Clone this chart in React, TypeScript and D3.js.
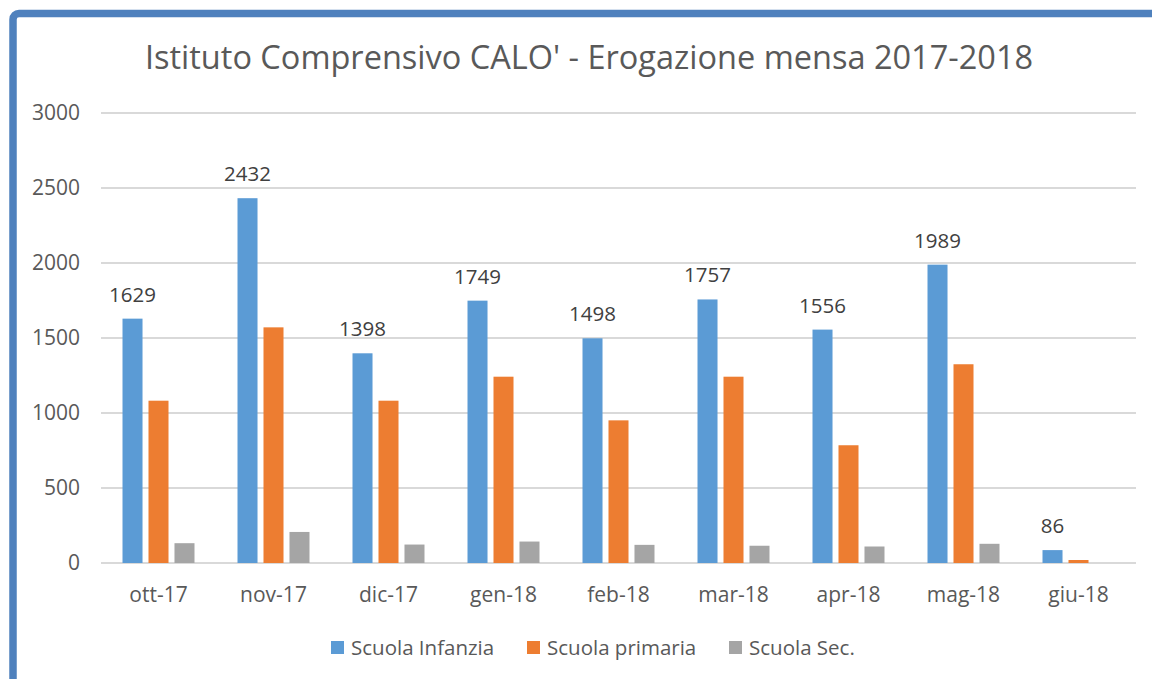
import React, { Component } from 'react';
import * as d3 from 'd3';

// dati
const months = ['ott-17', 'nov-17', 'dic-17', 'gen-18', 'feb-18', 'mar-18', 'apr-18', 'mag-18', 'giu-18'];
const seriesNames = ['Scuola Infanzia', 'Scuola primaria', 'Scuola Sec.'];
const infanzia = [1629, 2432, 1398, 1749, 1498, 1757, 1556, 1989, 86];
const primaria = [1082, 1571, 1082, 1242, 951, 1242, 785, 1325, 20];
const secondaria = [132, 207, 123, 143, 121, 115, 110, 128, 0];
const yTicks = [0, 500, 1000, 1500, 2000, 2500, 3000];
const colors = ['#5b9bd5', '#ed7d31', '#a5a5a5'];

const FONT = "'Open Sans', sans-serif";

class App extends Component {
    svgRef = React.createRef<SVGSVGElement>();

    componentDidMount() {
        this.draw();
    }

    draw() {
        const svg = d3.select(this.svgRef.current);
        svg.selectAll('*').remove();

        const values = [infanzia, primaria, secondaria];

        // cornice blu
        svg.append('rect')
            .attr('x', 13)
            .attr('y', 13.5)
            .attr('width', 1400)
            .attr('height', 1000)
            .attr('rx', 6)
            .attr('fill', '#fff')
            .attr('stroke', '#4f81bd')
            .attr('stroke-width', 7.5);

        // titolo
        svg.append('text')
            .attr('x', 589)
            .attr('y', 69)
            .attr('text-anchor', 'middle')
            .attr('font-family', FONT)
            .attr('font-size', 32.5)
            .attr('fill', '#595959')
            .text("Istituto Comprensivo CALO' - Erogazione mensa 2017-2018");

        // scale
        const x0 = d3.scaleBand()
            .domain(months)
            .range([101, 1136])
            .paddingInner(0.374)
            .paddingOuter(0.187);

        const x1 = d3.scaleBand()
            .domain(seriesNames)
            .range([0, x0.bandwidth()])
            .paddingInner(0.23);

        const y = d3.scaleLinear()
            .domain([0, 3000])
            .range([563, 113]);

        // griglia
        svg.append('g')
            .selectAll('line')
            .data(yTicks)
            .enter()
            .append('line')
            .attr('x1', 101)
            .attr('x2', 1136)
            .attr('y1', d => y(d))
            .attr('y2', d => y(d))
            .attr('stroke', '#d9d9d9')
            .attr('stroke-width', 2);

        // etichette asse y
        svg.append('g')
            .selectAll('text')
            .data(yTicks)
            .enter()
            .append('text')
            .attr('x', 80)
            .attr('y', d => y(d))
            .attr('dy', '0.35em')
            .attr('text-anchor', 'end')
            .attr('font-family', FONT)
            .attr('font-size', 21)
            .attr('fill', '#595959')
            .text(d => d);

        // etichette asse x
        svg.append('g')
            .selectAll('text')
            .data(months)
            .enter()
            .append('text')
            .attr('x', d => x0(d) + x0.bandwidth() / 2)
            .attr('y', 602)
            .attr('text-anchor', 'middle')
            .attr('font-family', FONT)
            .attr('font-size', 21)
            .attr('fill', '#595959')
            .text(d => d);

        // barre
        const groups = svg.append('g')
            .selectAll('g')
            .data(months)
            .enter()
            .append('g')
            .attr('transform', d => 'translate(' + x0(d) + ',0)');

        groups.selectAll('rect')
            .data((d, i) => seriesNames.map((s, k) => ({ s: s, k: k, v: values[k][i] })))
            .enter()
            .filter(d => d.v > 0)
            .append('rect')
            .attr('x', d => x1(d.s))
            .attr('y', d => y(d.v))
            .attr('width', x1.bandwidth())
            .attr('height', d => y(0) - y(d.v))
            .attr('fill', d => colors[d.k]);

        // valori sopra le barre blu
        svg.append('g')
            .selectAll('text')
            .data(months)
            .enter()
            .append('text')
            .attr('x', d => x0(d) + x1(seriesNames[0]) + x1.bandwidth() / 2)
            .attr('y', (d, i) => y(infanzia[i]) - 17)
            .attr('text-anchor', 'middle')
            .attr('font-family', FONT)
            .attr('font-size', 20.5)
            .attr('fill', '#404040')
            .text((d, i) => infanzia[i]);

        // legenda
        const legendX = [331, 527, 729];
        const legend = svg.append('g')
            .selectAll('g')
            .data(seriesNames)
            .enter()
            .append('g')
            .attr('transform', (d, i) => 'translate(' + legendX[i] + ',641)');

        legend.append('rect')
            .attr('width', 13)
            .attr('height', 13)
            .attr('fill', (d, i) => colors[i]);

        legend.append('text')
            .attr('x', 20)
            .attr('y', 6.5)
            .attr('dy', '0.35em')
            .attr('font-family', FONT)
            .attr('font-size', 20.5)
            .attr('fill', '#595959')
            .text(d => d);
    }

    render() {
        return (
            <svg ref={this.svgRef}
                 width={1152}
                 height={679}
                 style={{ position: 'absolute', left: 0, top: 0, background: '#fff' }} />
        );
    }
}

export default App;
